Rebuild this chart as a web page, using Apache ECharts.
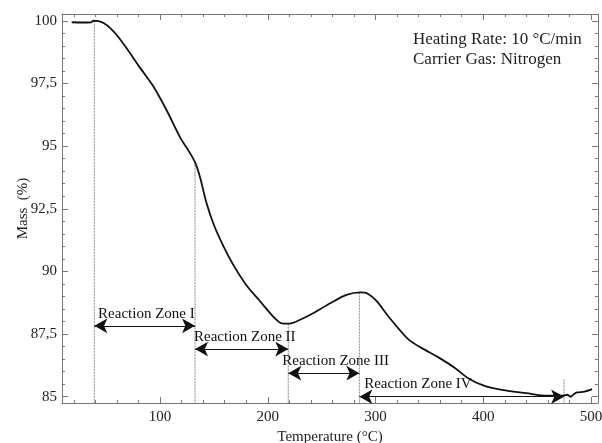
<!DOCTYPE html>
<html>
<head>
<meta charset="utf-8">
<script src="https://cdn.jsdelivr.net/npm/echarts@6/dist/echarts.min.js"></script>
<style>html,body{margin:0;padding:0;background:#fff;}#c{width:602px;height:443px;}</style>
</head>
<body>
<div id="c"></div>
<script>
const temperature = [18, 28, 36, 38, 43, 48, 54, 60, 69, 81, 94, 106, 119, 126, 132.5, 137, 143, 150, 159, 168, 180, 193, 205, 213, 220, 230, 242, 258, 273, 286, 290, 300, 312, 321, 331, 343, 358, 374, 386, 400, 416, 440, 459, 474, 478, 481, 484, 487, 494, 501];
const mass = [99.94, 99.93, 99.94, 100.0, 99.99, 99.90, 99.70, 99.42, 98.90, 98.15, 97.37, 96.44, 95.32, 94.85, 94.35, 93.78, 92.75, 91.85, 90.99, 90.26, 89.46, 88.80, 88.20, 87.93, 87.92, 88.07, 88.33, 88.73, 89.06, 89.16, 89.15, 88.86, 88.20, 87.74, 87.27, 86.94, 86.58, 86.14, 85.74, 85.45, 85.28, 85.14, 85.04, 85.04, 85.08, 85.00, 85.10, 85.17, 85.20, 85.30];

const xMajorTicks = [100, 200, 300, 400, 500];
const yMajorTicks = [85, 87.5, 90, 92.5, 95, 97.5, 100];
const xMin = 9, xMax = 506.5, yMin = 84.75, yMax = 100.27;

const zoneBounds = [39, 132.5, 219, 285, 475];
const zoneLineTops = [100, 94.35, 87.92, 89.16, 85.69];
const zoneArrowLevels = [87.83, 86.9, 85.94, 85.0];
const zoneNames = ['Reaction Zone I', 'Reaction Zone II', 'Reaction Zone III', 'Reaction Zone IV'];
const zoneLabelAnchors = [[42.5, 88.30], [131.5, 87.39], [213.5, 86.44], [289.5, 85.51]];

const xMinorTicks = [];
for (let v = 20; v <= 500; v += 20) if (v % 100 !== 0) xMinorTicks.push(v);
const yMinorTicks = [];
for (let v = 85; v <= 100.001; v += 0.5) { const r = Math.round(v * 10) / 10; if (!yMajorTicks.includes(r)) yMinorTicks.push(r); }

const FONT = 'Liberation Serif';
const AX = '#777';
const TXT = '#222';

function xAxisDef(grid, pos, ticks, len, showLine, showLabels, name) {
  return {
    type: 'value', gridIndex: grid, position: pos, min: xMin, max: xMax,
    splitLine: { show: false },
    axisLine: { show: showLine, onZero: false, lineStyle: { color: AX, width: 1 } },
    axisTick: { show: true, inside: true, length: len, customValues: ticks, lineStyle: { color: AX } },
    axisLabel: { show: showLabels, customValues: ticks, color: TXT, fontFamily: FONT, fontSize: 15, margin: 7 },
    name: name || '', nameLocation: 'middle', nameGap: 27, nameMoveOverlap: false,
    nameTextStyle: { color: TXT, fontFamily: FONT, fontSize: 15 }
  };
}
function yAxisDef(grid, pos, ticks, len, showLine, showLabels, name) {
  return {
    type: 'value', gridIndex: grid, position: pos, min: yMin, max: yMax,
    splitLine: { show: false },
    axisLine: { show: showLine, onZero: false, lineStyle: { color: AX, width: 1 } },
    axisTick: { show: true, inside: true, length: len, customValues: ticks, lineStyle: { color: AX } },
    axisLabel: { show: showLabels, customValues: ticks, color: TXT, fontFamily: FONT, fontSize: 15, margin: 5,
      formatter: v => String(v).replace('.', ',') },
    name: name || '', nameLocation: 'middle', nameGap: 31, nameMoveOverlap: false,
    nameTextStyle: { color: TXT, fontFamily: FONT, fontSize: 15 }
  };
}

const gridRect = { left: 62, right: 4, top: 14, bottom: 40, containLabel: false, outerBoundsMode: 'none' };

const series = [];
series.push({
  type: 'line', xAxisIndex: 0, yAxisIndex: 0,
  data: temperature.map((t, i) => [t, mass[i]]),
  showSymbol: false, smooth: 0.3,
  lineStyle: { color: '#111', width: 1.8 }, z: 5
});
zoneBounds.forEach((t, i) => {
  series.push({
    type: 'line', xAxisIndex: 0, yAxisIndex: 0,
    data: [[t, zoneLineTops[i]], [t, yMin]],
    showSymbol: false,
    lineStyle: { color: '#888', width: 1, type: [2, 1] }, z: 3
  });
});
series.push({
  type: 'line', xAxisIndex: 0, yAxisIndex: 0, data: [], showSymbol: false,
  markLine: {
    silent: true, animation: false,
    symbol: ['arrow', 'arrow'], symbolSize: [11, 13],
    lineStyle: { color: '#111', width: 1, type: 'solid' },
    label: { show: false },
    data: zoneArrowLevels.map((lvl, i) => [
      { coord: [zoneBounds[i], lvl] },
      { coord: [zoneBounds[i + 1], lvl] }
    ])
  }
});
series.push({
  type: 'scatter', xAxisIndex: 0, yAxisIndex: 0, symbolSize: 0,
  itemStyle: { opacity: 1 },
  data: zoneLabelAnchors.map((p, i) => ({ value: p, name: zoneNames[i] })),
  label: { show: true, position: 'right', distance: 0, formatter: p => p.name,
    color: '#111', opacity: 1, fontFamily: FONT, fontSize: 15 },
  z: 6
});

const chart = echarts.init(document.getElementById('c'), null, { renderer: 'canvas' });
chart.setOption({
  backgroundColor: '#fff',
  animation: false,
  grid: [Object.assign({}, gridRect), Object.assign({}, gridRect)],
  xAxis: [
    xAxisDef(0, 'bottom', xMajorTicks, 6, true, true, 'Temperature (°C)'),
    xAxisDef(0, 'top', xMajorTicks, 6, true, false),
    xAxisDef(1, 'bottom', xMinorTicks, 3, false, false),
    xAxisDef(1, 'top', xMinorTicks, 3, false, false)
  ],
  yAxis: [
    yAxisDef(0, 'left', yMajorTicks, 6, true, true, 'Mass  (%)'),
    yAxisDef(0, 'right', yMajorTicks, 6, true, false),
    yAxisDef(1, 'left', yMinorTicks, 3, false, false),
    yAxisDef(1, 'right', yMinorTicks, 3, false, false)
  ],
  graphic: [
    { type: 'text', left: 413, top: 31, style: { text: 'Heating Rate: 10 °C/min', font: '17px "Liberation Serif"', fill: TXT } },
    { type: 'text', left: 413, top: 51, style: { text: 'Carrier Gas: Nitrogen', font: '17px "Liberation Serif"', fill: TXT } }
  ],
  series: series
});
</script>
</body>
</html>
